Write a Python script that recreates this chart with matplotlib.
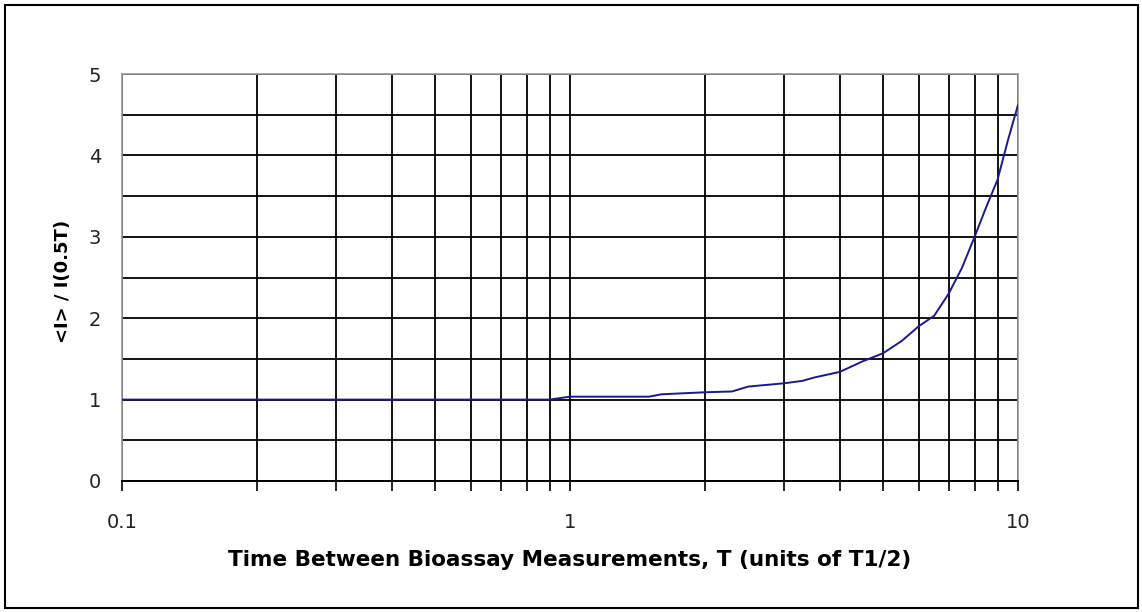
import numpy as np
import matplotlib
matplotlib.use("Agg")
import matplotlib.pyplot as plt
from matplotlib.patches import Rectangle
from matplotlib.ticker import FixedLocator, NullFormatter

plt.rcParams["font.family"] = ["DejaVu Sans"]

# data
t = [0.1, 0.2, 0.3, 0.4, 0.5, 0.6, 0.7, 0.8, 0.9, 1.0, 1.5, 1.6, 2.0, 2.3, 2.5,
     3.0, 3.3, 3.5, 4.0, 4.5, 5.0, 5.5, 6.0, 6.5, 7.0, 7.5, 8.0, 8.5, 9.0, 9.5, 10.0]
ratio = [1.0, 1.0, 1.0, 1.0, 1.0, 1.0, 1.0, 1.0, 1.0, 1.036, 1.036, 1.065, 1.09, 1.10, 1.16,
         1.20, 1.23, 1.27, 1.34, 1.47, 1.57, 1.72, 1.90, 2.03, 2.30, 2.62, 3.0, 3.37, 3.70, 4.19, 4.62]

x_major = [0.1, 1, 10]
x_labels = ["0.1", "1", "10"]
x_minor = [0.2, 0.3, 0.4, 0.5, 0.6, 0.7, 0.8, 0.9, 2, 3, 4, 5, 6, 7, 8, 9]

fig = plt.figure(figsize=(11.42, 6.12), dpi=100)
ax = fig.add_axes([122 / 1142, 1 - 481 / 612, (1018 - 122) / 1142, (481 - 74) / 612])

ax.plot(t, ratio, color="#1a1a8c", lw=1.4, zorder=3)

ax.set_xscale("log")
ax.set_xlim(0.1, 10)
ax.set_ylim(0, 5)
ax.xaxis.set_major_locator(FixedLocator(x_major))
ax.xaxis.set_minor_locator(FixedLocator(x_minor))
ax.set_xticklabels(x_labels)
ax.xaxis.set_minor_formatter(NullFormatter())
ax.set_yticks([0, 1, 2, 3, 4, 5])
ax.set_yticks(np.arange(0.5, 5, 1.0), minor=True)

ax.grid(True, which="both", color="black", lw=1.3)
ax.tick_params(axis="x", which="both", direction="out", length=7, width=1.2,
               color="black", labelsize=14, pad=16, labelcolor="#222222")
ax.tick_params(axis="y", which="both", length=0, labelsize=14, pad=15, labelcolor="#222222")

for s in ["left", "top", "right"]:
    ax.spines[s].set_color("#999999")
    ax.spines[s].set_linewidth(1.2)
ax.spines["bottom"].set_color("black")
ax.spines["bottom"].set_linewidth(1.4)

ax.set_xlabel("Time Between Bioassay Measurements, T (units of T1/2)",
              fontsize=15.5, fontweight="bold", labelpad=13)
ax.set_ylabel("<I> / I(0.5T)", fontsize=13, fontweight="bold")
ax.yaxis.set_label_coords(-0.056, 0.491)

fig.patches.append(Rectangle((5 / 1142, 4 / 612), 1133 / 1142, 603 / 612,
                             transform=fig.transFigure, fill=False,
                             edgecolor="black", lw=1.5))

fig.savefig("out.png", dpi=100)
